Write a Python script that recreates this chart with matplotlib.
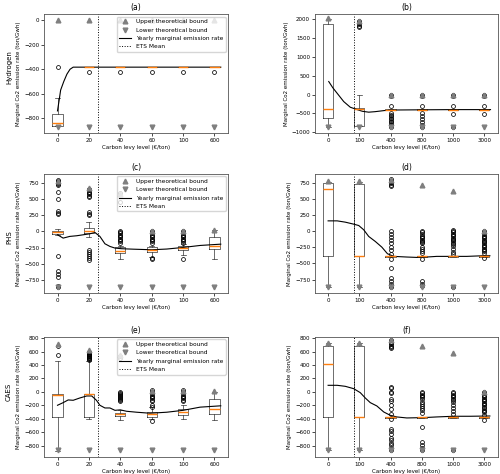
import matplotlib
matplotlib.use('Agg')
import matplotlib.pyplot as plt

plt.rcParams['font.size'] = 4
plt.rcParams['axes.linewidth'] = 0.6

levels_left = ['0', '20', '40', '60', '100', '600']
levels_right = ['0', '100', '400', '800', '1000', '3000']
rows = ['Hydrogen', 'PHS', 'CAES']

# ---- (a) Hydrogen, low levy ----
a_q1 = [-860, -381, -381, -381, -381, -381]
a_q3 = [-765, -379, -379, -379, -379, -379]
a_med = [-835, -380, -380, -380, -380, -380]
a_lo = [-860, -381, -381, -381, -381, -381]
a_hi = [-632, -379, -379, -379, -379, -379]
a_fliers = [[-380], [-420], [-420], [-420], [-420], [-420]]
a_upper = [0, 0, 0, 0, 0, 0]
a_lower = [-873, -873, -873, -873, -873, -873]
a_line_x = [0, 0.06, 0.1, 0.2, 0.3, 0.4, 0.5, 5.2]
a_line_y = [-740, -640, -570, -500, -440, -400, -383, -383]

# ---- (b) Hydrogen, high levy ----
b_q1 = [-630, -831, -420, -420, -420, -420]
b_q3 = [1860, -370, -385, -385, -385, -385]
b_med = [-380, -380, -400, -400, -400, -400]
b_lo = [-870, -840, -420, -420, -420, -420]
b_hi = [2000, 0, -385, -385, -385, -385]
b_fliers = [[], [1800, 1830, 1860, 1890, 1920, 1950],
            [0, -50, -300, -500, -540, -580, -620, -660, -700, -740, -780, -820, -850],
            [0, -50, -300, -480, -560, -650, -730, -800, -870],
            [0, -50, -300, -510, -850],
            [0, -50, -300, -510]]
b_upper = [2040, 1950, 0, 0, 0, 0]
b_lower = [-870, -870, -870, -870, -870, -870]
b_line_x = [0.02, 0.15, 0.29, 0.5, 0.71, 0.93, 1.1, 1.3, 1.5, 1.8, 2.2, 3, 4, 5.2]
b_line_y = [345, 180, 33, -187, -337, -400, -445, -468, -455, -425, -410, -405, -400, -400]

# ---- (c) PHS, low levy ----
c_q1 = [-36, -26, -331, -321, -290, -270]
c_q3 = [12, 60, -240, -245, -220, -87]
c_med = [-15, 0, -300, -290, -255, -230]
c_lo = [-60, -90, -418, -393, -357, -418]
c_hi = [40, 140, -220, -225, -200, 15]
c_fliers = [[790, 775, 760, 745, 730, 715, 600, 500, 310, 290, 275, -375, -610, -650, -700, -830, -850],
            [650, 630, 610, 590, 570, 550, 535, 300, 275, 250, -280, -310, -340, -375, -410, -435],
            [590, 460, 10, -10, -30, -50, -70, -90, -110, -130, -150, -170],
            [10, -10, -30, -50, -70, -90, -110, -130, -150, -170, -410, -430],
            [10, -10, -30, -50, -70, -90, -110, -130, -150, -170, -423],
            []]
c_upper = [780, 660, 577, 10, 10, 30]
c_lower = [-860, -860, -860, -860, -860, -860]
c_line_x = [0, 0.18, 0.39, 0.61, 0.82, 1.03, 1.19, 1.35, 1.51, 1.67, 1.83, 2.04, 2.41, 3.0, 3.48, 4.01, 4.54, 5.2]
c_line_y = [-51, -102, -76, -66, -51, -36, -15, -76, -189, -230, -255, -265, -272, -281, -270, -245, -215, -195]

# ---- (d) PHS, high levy ----
d_q1 = [-380, -380, -395, -395, -395, -395]
d_q3 = [740, 724, -385, -385, -385, -385]
d_med = [647, -380, -390, -390, -390, -390]
d_lo = [-870, -870, -395, -395, -395, -395]
d_hi = [760, 760, -385, -385, -385, -385]
d_fliers = [[], [],
            [800, 780, 760, 740, 720, 700, 5, -41, -92, -134, -185, -247, -298, -349, -430, -570, -724, -776, -820, -850, -870],
            [10, -20, -50, -70, -90, -110, -130, -150, -170, -185, -250, -280, -310, -340, -425, -776, -812, -853],
            [20, 0, -20, -40, -60, -80, -100, -120, -140, -160, -180, -200, -236, -280, -320, -350, -863],
            [10, -10, -30, -50, -70, -90, -110, -130, -150, -170, -190, -210, -230, -250, -270, -290, -310, -340, -416]]
d_upper = [780, 780, 790, 714, 627, 10]
d_lower = [-868, -868, -868, -868, -868, -868]
d_line_x = [0, 0.29, 0.55, 0.82, 0.98, 1.14, 1.30, 1.51, 1.72, 1.90, 2.10, 2.52, 2.84, 3.16, 3.48, 3.9, 4.44, 4.97, 5.18]
d_line_y = [159, 159, 139, 108, 87, 21, -82, -159, -247, -349, -390, -400, -406, -400, -390, -390, -390, -380, -380]

# ---- (e) CAES, low levy ----
e_q1 = [-375, -370, -360, -365, -346, -331]
e_q3 = [-35, -25, -306, -300, -257, -99]
e_med = [-45, -35, -326, -330, -296, -247]
e_lo = [-870, -405, -420, -405, -405, -420]
e_hi = [454, 460, -262, -220, -197, 0]
e_fliers = [[680, 553],
            [600, 590, 580, 570, 560, 550, 540, 530, 520, 510, 500, 490, 480],
            [540, 500, 0, -15, -30, -45, -60, -75, -90, -105, -120, -133],
            [25, 5, -15, -35, -55, -75, -95, -115, -130, -197, -222, -434],
            [25, 5, -15, -35, -55, -75, -95, -115, -138],
            []]
e_upper = [716, 617, 545, 10, 10, 10]
e_lower = [-864, -864, -864, -864, -864, -864]
e_line_x = [0, 0.18, 0.34, 0.5, 0.71, 0.93, 1.09, 1.24, 1.35, 1.51, 1.67, 1.83, 2.0, 2.2, 2.52, 2.95, 3.48, 4.0, 4.54, 5.2]
e_line_y = [-197, -158, -118, -123, -89, -59, -59, -123, -197, -237, -237, -272, -265, -286, -300, -315, -300, -272, -225, -205]

# ---- (f) CAES, high levy ----
f_q1 = [-375, -375, -380, -380, -380, -380]
f_q3 = [681, 676, -365, -365, -365, -365]
f_med = [420, -375, -372, -372, -372, -372]
f_lo = [-864, -864, -380, -380, -380, -380]
f_hi = [720, 720, -365, -365, -365, -365]
f_fliers = [[], [],
            [765, 745, 725, 705, 685, 665, 645, 74, 60, 0, -10, -99, -138, -197, -257, -321, -405,
             -543, -578, -617, -676, -716, -750, -790, -830, -864],
            [0, -20, -40, -60, -80, -99, -148, -180, -210, -240, -270, -306, -518, -740, -790, -830, -864],
            [0, -20, -40, -60, -80, -100, -120, -148, -200, -240, -280, -320, -864],
            [0, -20, -40, -60, -80, -100, -120, -140, -160, -180, -200, -220, -240, -260, -280, -300, -336, -420]]
f_upper = [731, 731, 765, 681, 583, 0]
f_lower = [-864, -864, -864, -864, -864, -864]
f_line_x = [0, 0.29, 0.55, 0.82, 1.03, 1.19, 1.35, 1.56, 1.78, 1.99, 2.2, 2.52, 3.05, 3.48, 4.02, 4.54, 5.18]
f_line_y = [99, 99, 84, 49, -10, -89, -158, -207, -296, -346, -370, -385, -380, -370, -360, -360, -356]

ets_left = 1.3
ets_right = 0.82

panels = [
    ('(a)', levels_left, a_q1, a_q3, a_med, a_lo, a_hi, a_fliers, a_upper, a_lower, a_line_x, a_line_y,
     ets_left, (-922, 49), [-800, -600, -400, -200, 0]),
    ('(b)', levels_right, b_q1, b_q3, b_med, b_lo, b_hi, b_fliers, b_upper, b_lower, b_line_x, b_line_y,
     ets_right, (-1026, 2132), [-1000, -500, 0, 500, 1000, 1500, 2000]),
    ('(c)', levels_left, c_q1, c_q3, c_med, c_lo, c_hi, c_fliers, c_upper, c_lower, c_line_x, c_line_y,
     ets_left, (-944, 883), [-750, -500, -250, 0, 250, 500, 750]),
    ('(d)', levels_right, d_q1, d_q3, d_med, d_lo, d_hi, d_fliers, d_upper, d_lower, d_line_x, d_line_y,
     ets_right, (-955, 884), [-750, -500, -250, 0, 250, 500, 750]),
    ('(e)', levels_left, e_q1, e_q3, e_med, e_lo, e_hi, e_fliers, e_upper, e_lower, e_line_x, e_line_y,
     ets_left, (-963, 815), [-800, -600, -400, -200, 0, 200, 400, 600, 800]),
    ('(f)', levels_right, f_q1, f_q3, f_med, f_lo, f_hi, f_fliers, f_upper, f_lower, f_line_x, f_line_y,
     ets_right, (-963, 815), [-800, -600, -400, -200, 0, 200, 400, 600, 800]),
]

fig = plt.figure(figsize=(5, 4.74), dpi=100)

# axes boxes in figure fractions
col_left = [0.088, 0.630]
col_width = [0.368, 0.366]
row_bottom = [0.719, 0.382, 0.036]
row_height = [0.251, 0.251, 0.253]

gray = '#7f7f7f'

for i, p in enumerate(panels):
    (title, levels, q1, q3, med, lo, hi, fliers, upper, lower, lx, ly, ets, ylim, yticks) = p
    r, c = divmod(i, 2)
    ax = fig.add_axes([col_left[c], row_bottom[r], col_width[c], row_height[r]])
    pos = list(range(len(levels)))

    stats = []
    for k in pos:
        stats.append({'med': med[k], 'q1': q1[k], 'q3': q3[k],
                      'whislo': lo[k], 'whishi': hi[k], 'fliers': fliers[k]})
    ax.bxp(stats, positions=pos, widths=0.33, manage_ticks=False,
           boxprops=dict(color='#333333', linewidth=0.5),
           whiskerprops=dict(color='#333333', linewidth=0.5),
           capprops=dict(color='#333333', linewidth=0.5),
           medianprops=dict(color='#ff7f0e', linewidth=1.0),
           flierprops=dict(marker='o', markerfacecolor='none', markeredgecolor='black',
                           markersize=2.8, markeredgewidth=0.55))

    ax.plot(pos, upper, linestyle='none', marker='^', color=gray, markersize=3.4,
            label='Upper theoretical bound')
    ax.plot(pos, lower, linestyle='none', marker='v', color=gray, markersize=3.4,
            label='Lower theoretical bound')
    ax.plot(lx, ly, color='black', linewidth=0.8, label='Yearly marginal emission rate')
    ax.axvline(ets, color='black', linestyle=':', linewidth=0.7, label='ETS Mean')

    ax.set_xticks(pos)
    ax.set_xticklabels(levels)
    ax.set_yticks(yticks)
    ax.set_ylim(ylim)
    if c == 0:
        ax.set_xlim(-0.43, 5.43)
    else:
        ax.set_xlim(-0.42, 5.44)
    ax.tick_params(labelsize=4, length=2, width=0.5, pad=1.5)
    for s in ax.spines.values():
        s.set_color('#555555')
    ax.set_title(title, fontsize=5.5, pad=3)
    ax.set_xlabel('Carbon levy level (€/ton)', fontsize=4, labelpad=1.5)
    ax.set_ylabel('Marginal Co2 emission rate (ton/Gwh)', fontsize=4, labelpad=2)
    if c == 0:
        ax.legend(loc='upper right', fontsize=4.2, frameon=True, borderpad=0.45,
                  labelspacing=0.55, handletextpad=0.8, borderaxespad=0.4)

fig.text(0.012, 0.859, rows[0], rotation=90, va='center', ha='left', fontsize=5)
fig.text(0.012, 0.500, rows[1], rotation=90, va='center', ha='left', fontsize=5)
fig.text(0.012, 0.173, rows[2], rotation=90, va='center', ha='left', fontsize=5)

plt.savefig('out.png', dpi=100)
